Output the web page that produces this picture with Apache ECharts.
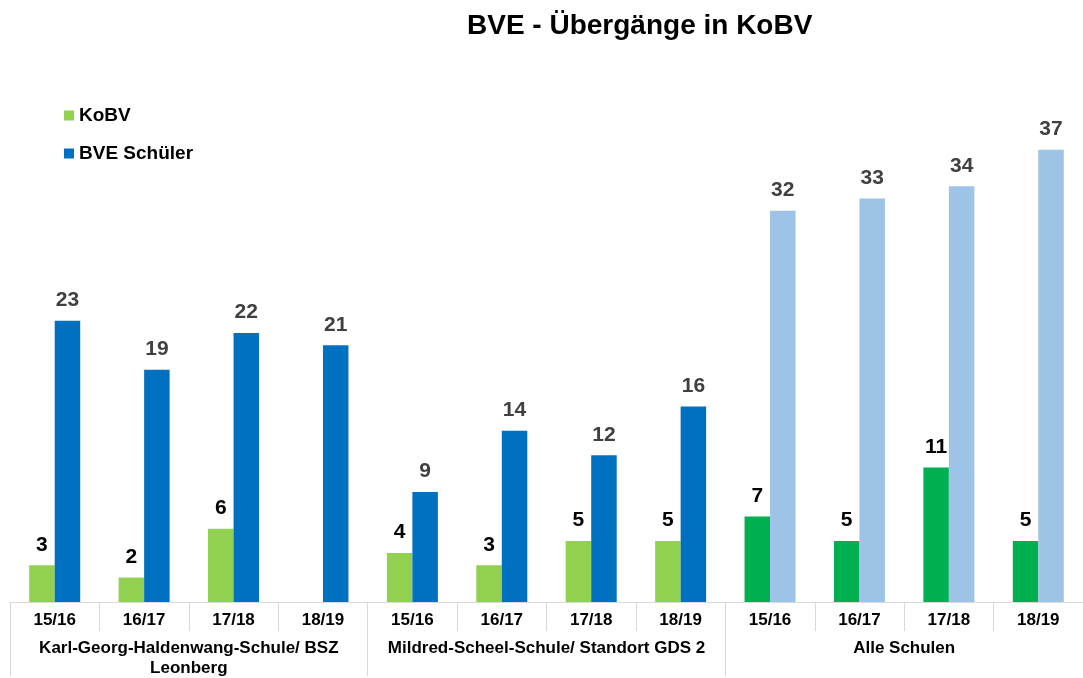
<!DOCTYPE html>
<html>
<head>
<meta charset="utf-8">
<script src="https://cdn.jsdelivr.net/npm/echarts@6/dist/echarts.min.js"></script>
<style>
html,body{margin:0;padding:0;background:#fff;}
#c{width:1083px;height:678px;}
</style>
</head>
<body>
<div id="c"></div>
<script>
const years = ['15/16','16/17','17/18','18/19','15/16','16/17','17/18','18/19','15/16','16/17','17/18','18/19'];
const groups = ['Karl-Georg-Haldenwang-Schule/ BSZ\nLeonberg','Mildred-Scheel-Schule/ Standort GDS 2','Alle Schulen'];
const kobv = [3, 2, 6, null, 4, 3, 5, 5, 7, 5, 11, 5];
const bve = [23, 19, 22, 21, 9, 14, 12, 16, 32, 33, 34, 37];

const FONT = '"Liberation Sans", Arial, sans-serif';
const chart = echarts.init(document.getElementById('c'), null, {renderer:'canvas'});

const kobvData = kobv.map((v, i) => ({value: v, itemStyle: {color: i >= 8 ? '#00B050' : '#92D050'}}));
const bveData = bve.map((v, i) => ({value: v, itemStyle: {color: i >= 8 ? '#9DC3E6' : '#0070C0'}}));

chart.setOption({
  animation: false,
  backgroundColor: '#ffffff',
  title: {
    text: 'BVE - Übergänge in KoBV',
    left: 462,
    top: 7,
    textStyle: {fontFamily: FONT, fontSize: 28, fontWeight: 'bold', color: '#000'}
  },
  legend: {
    orient: 'vertical',
    left: 59,
    top: 101,
    itemWidth: 10,
    itemHeight: 10,
    itemGap: 19,
    icon: 'rect',
    textStyle: {fontFamily: FONT, fontSize: 19, fontWeight: 'bold', color: '#000'},
    data: ['KoBV', 'BVE Schüler']
  },
  grid: {left: 10, width: 1078, top: 113, bottom: 74, containLabel: false},
  xAxis: [
    {
      type: 'category',
      data: years,
      position: 'bottom',
      axisLine: {show: true, lineStyle: {color: '#D9D9D9', width: 1}},
      axisTick: {show: true, length: 29, interval: 0, lineStyle: {color: '#D9D9D9'}},
      axisLabel: {interval: 0, margin: 10, fontFamily: FONT, fontSize: 17, fontWeight: 'bold', color: '#000'}
    },
    {
      type: 'category',
      data: groups,
      position: 'bottom',
      axisLine: {show: false},
      axisTick: {show: true, length: 74, interval: 0, lineStyle: {color: '#D9D9D9'}},
      axisLabel: {interval: 0, margin: 36, fontFamily: FONT, fontSize: 17, fontWeight: 'bold', color: '#000', lineHeight: 20}
    }
  ],
  yAxis: {
    type: 'value',
    min: 0,
    max: 40,
    show: false,
    splitLine: {show: false}
  },
  series: [
    {
      name: 'KoBV',
      type: 'bar',
      xAxisIndex: 0,
      data: kobvData,
      barWidth: 25.5,
      barGap: '0%',
      itemStyle: {color: '#92D050'},
      label: {show: true, position: 'top', distance: 10, fontFamily: FONT, fontSize: 21, fontWeight: 'bold', color: '#000'}
    },
    {
      name: 'BVE Schüler',
      type: 'bar',
      xAxisIndex: 0,
      data: bveData,
      barWidth: 25.5,
      barGap: '0%',
      itemStyle: {color: '#0070C0'},
      label: {show: true, position: 'top', distance: 10, fontFamily: FONT, fontSize: 21, fontWeight: 'bold', color: '#404040'}
    }
  ]
});
</script>
</body>
</html>
